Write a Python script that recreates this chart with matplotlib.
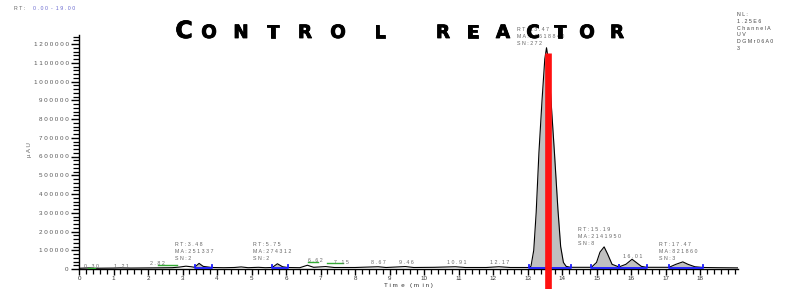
import matplotlib
matplotlib.use('Agg')
import matplotlib.pyplot as plt
import matplotlib.patheffects as pe
from matplotlib.ticker import MultipleLocator

plt.rcParams['font.family'] = ['Liberation Sans', 'DejaVu Sans']

# chromatogram trace (min, uAU)
time = [0.0, 0.3, 0.45, 1.0, 1.2, 1.5, 2.2, 2.7, 2.9, 3.1, 3.25, 3.35, 3.48, 3.6, 3.85,
        4.2, 4.5, 4.7, 4.9, 5.2, 5.4, 5.6, 5.75, 5.9, 6.05, 6.4, 6.62, 6.8, 7.15, 7.4,
        8.0, 8.67, 8.9, 9.46, 9.7, 10.3, 10.91, 11.2, 11.8, 12.17, 12.5, 13.05, 13.1,
        13.18, 13.25, 13.33, 13.42, 13.5, 13.55, 13.6, 13.68, 13.78, 13.88, 13.96, 14.04,
        14.12, 14.25, 14.85, 15.0, 15.1, 15.22, 15.32, 15.45, 15.65, 15.85, 16.03, 16.15,
        16.3, 16.45, 17.1, 17.3, 17.5, 17.65, 17.85, 18.1, 18.5, 19.1]
signal = [4000, 6000, 4000, 5000, 6000, 5000, 6000, 7000, 10000, 15000, 12000, 9000, 30000,
          14000, 8000, 7000, 8000, 11000, 7000, 9000, 7000, 8000, 28000, 12000, 8000, 7000,
          20000, 9000, 13000, 8000, 8000, 12000, 8000, 13000, 8000, 9000, 12000, 8000, 8000,
          12000, 8000, 8000, 15000, 100000, 300000, 620000, 900000, 1120000, 1180000,
          1120000, 900000, 620000, 320000, 120000, 35000, 14000, 9000, 9000, 35000, 90000,
          118000, 80000, 25000, 11000, 25000, 52000, 35000, 14000, 9000, 9000, 25000, 38000,
          25000, 12000, 8000, 7000, 6000]

# integrated peaks: start / end of baseline
int_start = [3.35, 5.6, 13.05, 14.85, 15.65, 17.1]
int_end = [3.85, 6.05, 14.25, 15.65, 16.45, 18.1]
baseline_level = 5000

# green (unintegrated) markers
green_start = [0.25, 2.3, 6.64, 7.19]
green_end = [0.45, 2.84, 6.93, 7.65]
green_level = [7000, 20000, 38000, 30000]

# small retention time labels
small_rt = ['0.30', '1.21', '2.82', '6.62', '7.15', '8.67', '9.46', '10.91', '12.17', '16.01']
small_x = [0.35, 1.22, 2.26, 6.84, 7.62, 8.67, 9.48, 10.96, 12.2, 16.06]
small_y = [16000, 16000, 30000, 48000, 36000, 32000, 32000, 32000, 32000, 69000]

# annotated peaks
info_rt = ['3.48', '5.75', '13.47', '15.19', '17.47']
info_ma = ['251337', '274312', '21618840', '2141950', '821860']
info_sn = ['2', '2', '272', '8', '3']
info_x = [2.78, 5.04, 12.70, 14.46, 16.81]
info_y = [142000, 142000, 1290000, 222000, 142000]

marker_rt = 13.59
marker_top = 1152000

y_ticks = list(range(0, 1200001, 100000))
x_ticks = list(range(0, 19))

W, H = 790, 289
GRAY = '#666666'


def sp(s):
    return ' '.join(s.replace(' ', ''))


fig = plt.figure(figsize=(W / 100, H / 100), dpi=100)
ax = fig.add_axes([79 / W, 20 / H, 659 / W, 234 / H])
ax.set_xlim(0, 19.1)
ax.set_ylim(0, 1.248e6)

# fill integrated peaks
for s, e in zip(int_start, int_end):
    xs = [t for t in time if s <= t <= e]
    ys = [v for t, v in zip(time, signal) if s <= t <= e]
    ax.fill_between(xs, baseline_level, ys, color='#c0c0c0', lw=0, zorder=1)

ax.plot(time, signal, color='black', lw=0.8, zorder=3)

for s, e in zip(int_start, int_end):
    ax.plot([s, s, e, e], [baseline_level + 14000, baseline_level, baseline_level,
                           baseline_level + 14000], color='#1a1aff', lw=1.3, zorder=4)
for s, e, g in zip(green_start, green_end, green_level):
    ax.plot([s, e], [g, g], color='#33aa33', lw=1.0, zorder=4)

for lab, x, y in zip(small_rt, small_x, small_y):
    ax.text(x, y, sp(lab), fontsize=3.8, color=GRAY, ha='center', va='center', zorder=6)

for rt, ma, sn, x, y in zip(info_rt, info_ma, info_sn, info_x, info_y):
    txt = sp('RT:' + rt) + '\n' + sp('MA:' + ma) + '\n' + sp('SN:' + sn)
    bbox = dict(facecolor='white', edgecolor='none', pad=0.3) if y > 1e6 else None
    ax.text(x, y, txt, fontsize=3.8, color=GRAY, ha='left', va='top',
            linespacing=1.45, zorder=8, clip_on=False, bbox=bbox)

ax.vlines(marker_rt, -110000, marker_top, colors='#ff1111', lw=4.8, clip_on=False, zorder=9)

# axes styling
for side in ['top', 'right']:
    ax.spines[side].set_visible(False)
for side in ['left', 'bottom']:
    ax.spines[side].set_linewidth(1.0)
ax.set_yticks(y_ticks)
ax.set_yticklabels([sp(str(v)) for v in y_ticks])
ax.yaxis.set_minor_locator(MultipleLocator(20000))
ax.set_xticks(x_ticks)
ax.set_xticklabels([str(v) for v in x_ticks])
ax.xaxis.set_minor_locator(MultipleLocator(0.2))
ax.tick_params(axis='y', which='major', length=6, width=1.0, labelsize=4.5, pad=1.5,
               labelcolor='#555555')
ax.tick_params(axis='y', which='minor', length=4, width=0.9)
ax.tick_params(axis='x', which='major', length=4.5, width=1.0, labelsize=4.5, pad=0.8,
               labelcolor='#333333')
ax.tick_params(axis='x', which='minor', length=3.5, width=0.9)

fig.text(30 / W, 1 - 150 / H, sp('µAU'), rotation=90, fontsize=4.5, color=GRAY,
         ha='center', va='center')
fig.text(408 / W, 1 - 285.5 / H, 'T i m  e   ( m  i n )', fontsize=4.5, color='#333333',
         ha='center', va='center')

# header texts
fig.text(14 / W, 1 - 9 / H, sp('RT:'), fontsize=3.8, color=GRAY, va='center')
fig.text(33 / W, 1 - 9 / H, '0 . 0 0  -  1 9 . 0 0', fontsize=3.8, color='#6a6ad0', va='center')
fig.text(737 / W, 1 - 12 / H, '\n'.join(sp(s) for s in ['NL:', '1.25E6', 'Channel A', 'UV',
                                                        'DGMr06A0', '3']),
         fontsize=3.8, color='#444444', va='top', ha='left', linespacing=1.45)

# title in small caps, letter by letter
title_chars = 'CONTROLREACTOR'
title_px = [184, 209, 241, 273, 305, 338, 380, 443, 473, 503, 533, 560, 587, 617]
thick = [pe.withStroke(linewidth=0.6, foreground='black')]
for i, (ch, px) in enumerate(zip(title_chars, title_px)):
    size = 17 if i == 0 else 13.2
    fig.text(px / W, 1 - 38 / H, ch, fontsize=size, fontweight='bold', color='black',
             ha='center', va='baseline', family='DejaVu Sans', zorder=2,
             path_effects=thick)

fig.savefig('out.png', dpi=100)
